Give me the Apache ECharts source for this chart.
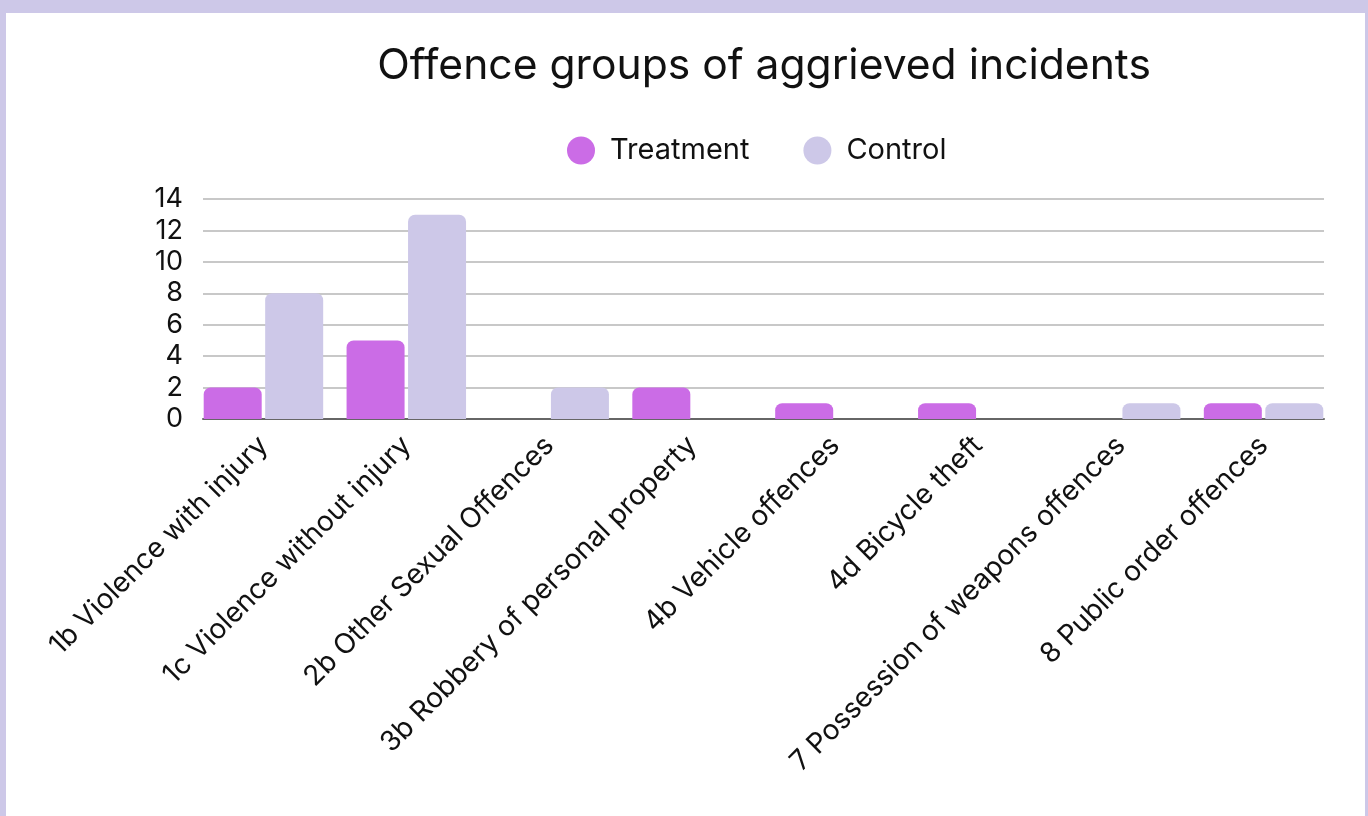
<!DOCTYPE html>
<html>
<head>
<meta charset="utf-8">
<script src="https://cdn.jsdelivr.net/npm/echarts@6/dist/echarts.min.js"></script>
<style>
  html, body { margin: 0; padding: 0; width: 1368px; height: 816px; background: #cdc8e8; overflow: hidden; }
  #chart { position: absolute; left: 6px; top: 13px; width: 1359px; height: 803px; background: #ffffff; }
</style>
</head>
<body>
<div id="chart"></div>
<script>
// Offence groups and incident counts per arm
const categories = [
  '1b Violence with injury',
  '1c Violence without injury',
  '2b Other Sexual Offences',
  '3b Robbery of personal property',
  '4b Vehicle offences',
  '4d Bicycle theft',
  '7 Possession of weapons offences',
  '8 Public order offences'
];
const treatment = [2, 5, 0, 2, 1, 1, 0, 1];
const control = [8, 13, 2, 0, 0, 0, 1, 1];
const yMin = 0, yMax = 14, yStep = 2;

const FONT = 'Inter';
const INK = '#111111';
const PURPLE = '#cb6ce6';
const LAVENDER = '#cdc8e8';

const chart = echarts.init(document.getElementById('chart'), null, { renderer: 'canvas' });

chart.setOption({
  backgroundColor: '#ffffff',
  animation: false,
  textStyle: { fontFamily: FONT },
  title: {
    text: 'Offence groups of aggrieved incidents',
    left: 753,
    textAlign: 'center',
    top: 27,
    textStyle: { fontFamily: FONT, fontSize: 42.6, fontWeight: 'normal', color: INK }
  },
  legend: {
    left: 556,
    top: 118,
    icon: 'circle',
    itemWidth: 28,
    itemHeight: 28,
    itemGap: 54,
    textStyle: { fontFamily: FONT, fontSize: 29, color: INK, padding: [0, 0, 0, 10] },
    data: ['Treatment', 'Control']
  },
  grid: [
    // bars and category labels
    { left: 186, top: 186, width: 1143, height: 220 },
    // value scale, gridlines and baseline
    { left: 197, top: 186, width: 1121, height: 220 }
  ],
  xAxis: [
    {
      type: 'category',
      gridIndex: 0,
      data: categories,
      axisLine: { show: false },
      axisTick: { show: false },
      axisLabel: {
        rotate: 45,
        interval: 0,
        margin: 22,
        fontFamily: FONT,
        fontSize: 28,
        color: INK
      }
    },
    {
      type: 'value',
      gridIndex: 1,
      min: 0,
      max: 1,
      axisLine: { show: true, onZero: false, lineStyle: { color: '#666666', width: 2 } },
      axisTick: { show: false },
      axisLabel: { show: false },
      splitLine: { show: false }
    }
  ],
  yAxis: [
    {
      type: 'value',
      gridIndex: 0,
      min: yMin,
      max: yMax,
      interval: yStep,
      show: false,
      splitLine: { show: false }
    },
    {
      type: 'value',
      gridIndex: 1,
      min: yMin,
      max: yMax,
      interval: yStep,
      axisLine: { show: false },
      axisTick: { show: false },
      axisLabel: { margin: 20, fontFamily: FONT, fontSize: 27, color: INK },
      splitLine: { show: true, lineStyle: { color: '#c8c8c8', width: 2 } }
    }
  ],
  series: [
    {
      name: 'Treatment',
      type: 'bar',
      xAxisIndex: 0,
      yAxisIndex: 0,
      data: treatment,
      barWidth: 58,
      barGap: '6%',
      itemStyle: { color: PURPLE, borderRadius: [7, 7, 0, 0] },
      z: 3
    },
    {
      name: 'Control',
      type: 'bar',
      xAxisIndex: 0,
      yAxisIndex: 0,
      data: control,
      barWidth: 58,
      barGap: '6%',
      itemStyle: { color: LAVENDER, borderRadius: [7, 7, 0, 0] },
      z: 3
    }
  ]
});
</script>
</body>
</html>
